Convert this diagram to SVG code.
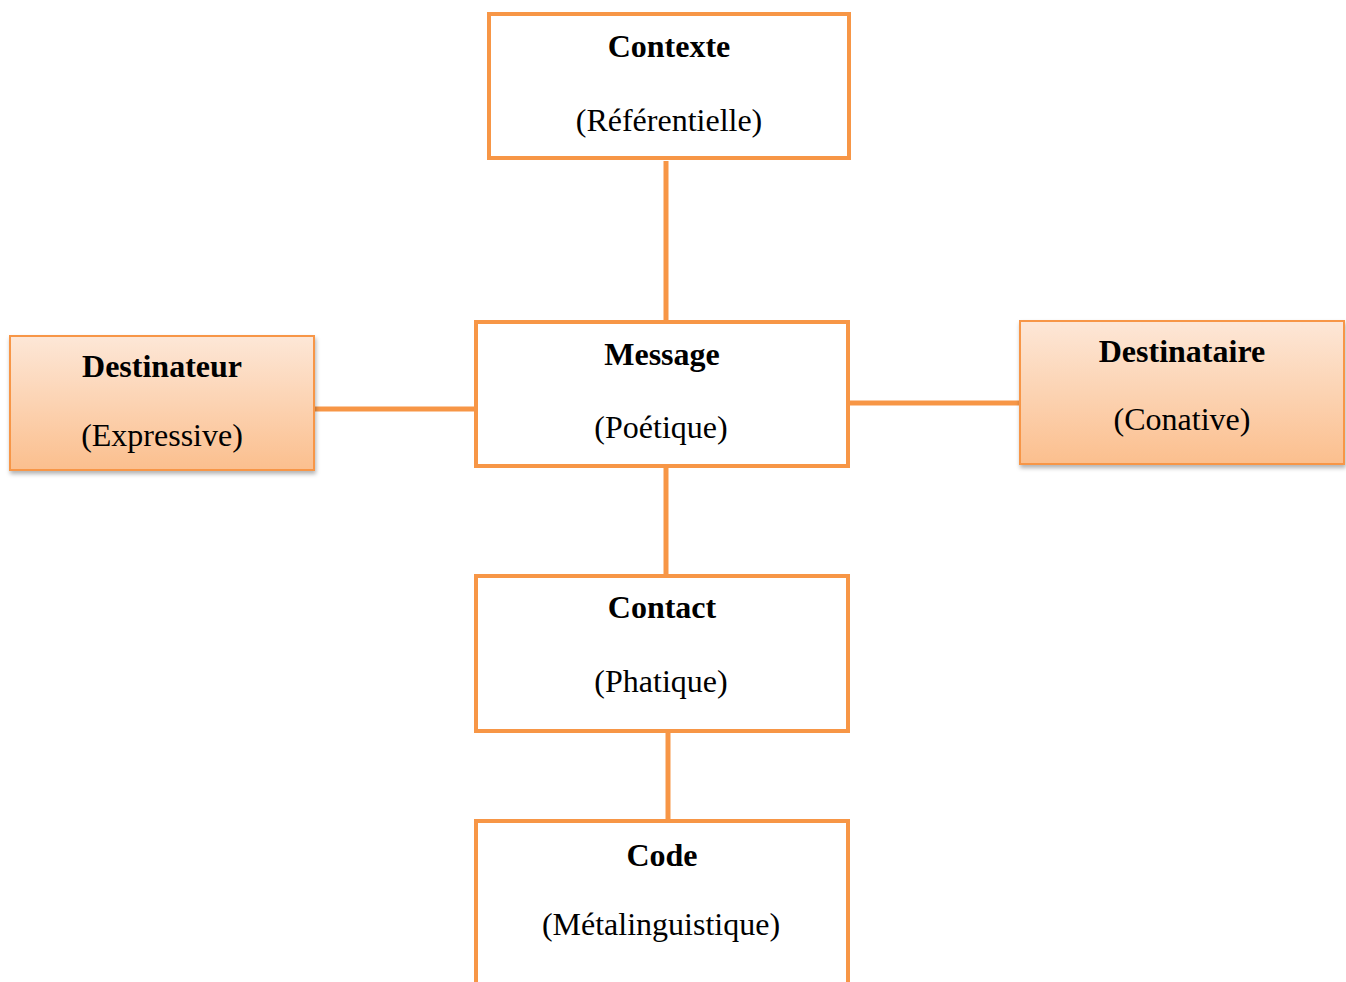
<svg xmlns="http://www.w3.org/2000/svg" width="1346" height="982" viewBox="0 0 1346 982">
<defs>
<linearGradient id="g" x1="0" y1="0" x2="0" y2="1">
<stop offset="0" stop-color="#FDE7D7"/>
<stop offset="1" stop-color="#FBBF8E"/>
</linearGradient>
<filter id="sh" x="-10%" y="-10%" width="120%" height="130%">
<feDropShadow dx="1" dy="3" stdDeviation="2" flood-color="#000" flood-opacity="0.3"/>
</filter>
</defs>
<style>
.w{fill:#fff;stroke:#F79646;stroke-width:4}
.o{fill:url(#g);stroke:#F79646;stroke-width:2;filter:url(#sh)}
.c{stroke:#F79646;stroke-width:5;fill:none}
text{font-family:"Liberation Serif","Times New Roman",serif;font-size:32px;text-anchor:middle;fill:#000}
.b{font-weight:bold}
</style>
<g id="connectors">
<line class="c" x1="666" y1="161" x2="666" y2="321"/>
<line class="c" x1="314" y1="409" x2="475" y2="409"/>
<line class="c" x1="849" y1="403" x2="1020" y2="403"/>
<line class="c" x1="666" y1="467" x2="666" y2="575"/>
<line class="c" x1="668" y1="732" x2="668" y2="820"/>
</g>
<g id="contexte">
<rect class="w" x="489" y="14" width="360" height="144"/>
<text class="b" x="669" y="57">Contexte</text>
<text x="669" y="131">(Référentielle)</text>
</g>
<g id="message">
<rect class="w" x="476" y="322" width="372" height="144"/>
<text class="b" x="662" y="365">Message</text>
<text x="661" y="438">(Poétique)</text>
</g>
<g id="destinateur">
<rect class="o" x="10" y="336" width="304" height="134"/>
<text class="b" x="162" y="377">Destinateur</text>
<text x="162" y="446">(Expressive)</text>
</g>
<g id="destinataire">
<rect class="o" x="1020" y="321" width="324" height="143"/>
<text class="b" x="1182" y="362">Destinataire</text>
<text x="1182" y="430">(Conative)</text>
</g>
<g id="contact">
<rect class="w" x="476" y="576" width="372" height="155"/>
<text class="b" x="662" y="618">Contact</text>
<text x="661" y="692">(Phatique)</text>
</g>
<g id="code">
<path class="w" d="M476 990 V821 H848 V990"/>
<text class="b" x="662" y="866">Code</text>
<text x="661" y="935">(Métalinguistique)</text>
</g>
</svg>
